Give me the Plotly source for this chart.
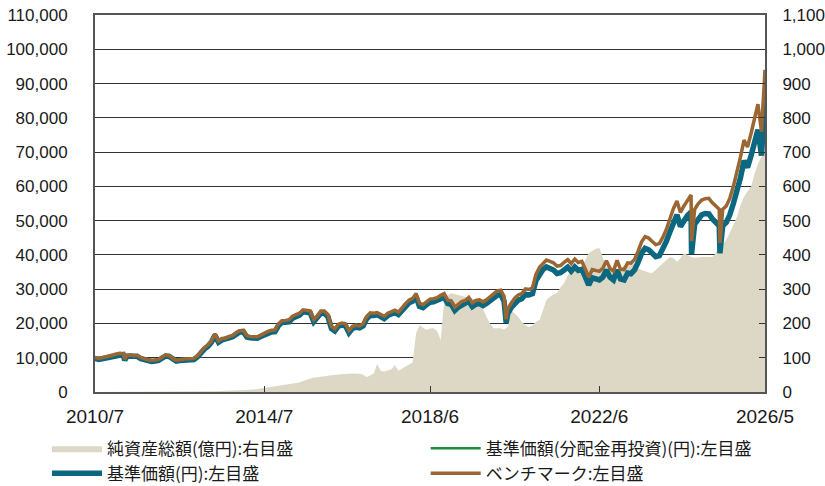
import pandas as pd
import plotly.graph_objects as go

# ---- data ----
months = pd.date_range("2010-07-01", "2026-05-01", freq="MS")

base_price = (
    [9800, 9500, 9700, 9900, 10200, 10500]
    + [10800, 11000, 10900, 10400, 10500, 10300, 10400, 9700, 9300, 9100, 8900, 9000]
    + [9200, 9900, 10500, 10400, 9500, 9000, 9200, 9200, 9400, 9400, 9500, 10200]
    + [11500, 12600, 13300, 14500, 16600, 14500, 15200, 15300, 15800, 16100, 17000, 17500]
    + [17600, 16000, 15800, 15800, 15700, 16200, 16700, 17200, 17500, 17600, 19400, 20300]
    + [20300, 20500, 21500, 22000, 22400, 23400, 23300, 23100, 20500, 21500, 23000, 23000]
    + [22000, 18500, 17800, 19200, 19500, 19300, 17300, 18600, 18900, 18700, 19300, 21400]
    + [22400, 22300, 22500, 22000, 21400, 22300, 22800, 23200, 22600, 23900, 25000, 26000]
    + [26500, 27800, 25000, 24600, 25500, 26200, 26300, 26600, 27200, 27700, 25800, 25600]
    + [23800, 24800, 25400, 25600, 26500, 24900, 25600, 25800, 25200, 25800, 26600, 27600]
    + [28200, 28400, 26500, 22800, 24600, 26000, 26800, 27200, 28500, 28300, 28700, 32500]
    + [34500, 35800, 36500, 36000, 35600, 34600, 34800, 35600, 36400, 35300, 36500, 35500]
    + [35800, 33500, 31200, 33300, 33000, 32700, 33500, 35600, 33500, 32700, 35600, 33000]
    + [32700, 34700, 34500, 35600, 37800, 40500, 41900, 41500, 40500, 39500, 39800, 41500]
    + [44000, 46800, 49500, 51700, 48300, 50000, 51500, 52500, 49000, 50500, 51700, 52100]
    + [52000, 50500, 49500, 48500, 48500, 49500, 51700, 55000, 58500, 62500, 67500, 65500]
    + [69000, 73000, 76500, 69000, 86000]
)

benchmark = (
    [10100, 9800, 10000, 10200, 10500, 10800]
    + [11100, 11300, 11200, 10700, 10800, 10600, 10700, 10000, 9600, 9400, 9200, 9300]
    + [9500, 10200, 10800, 10700, 9800, 9300, 9500, 9500, 9700, 9700, 9800, 10500]
    + [11900, 13000, 13700, 14900, 17000, 14900, 15600, 15700, 16200, 16500, 17400, 17900]
    + [18000, 16400, 16200, 16200, 16100, 16600, 17200, 17700, 18000, 18100, 19900, 20800]
    + [20900, 21100, 22100, 22600, 23000, 24000, 23900, 23700, 21100, 22100, 23600, 23600]
    + [22600, 19100, 18400, 19800, 20100, 19900, 17900, 19200, 19500, 19300, 19900, 22000]
    + [23100, 23000, 23200, 22700, 22100, 23000, 23500, 23900, 23300, 24700, 25800, 26800]
    + [27300, 28700, 25900, 25500, 26400, 27100, 27200, 27500, 28200, 28700, 26800, 26600]
    + [24800, 25800, 26400, 26700, 27600, 26000, 26700, 26900, 26300, 26900, 27800, 28800]
    + [29500, 29700, 27900, 24200, 25900, 27400, 28300, 28700, 30100, 29900, 30400, 34300]
    + [36400, 37700, 38500, 38100, 37700, 36700, 36900, 37800, 38600, 37500, 38800, 37800]
    + [38100, 35800, 33500, 35700, 35400, 35200, 36100, 38300, 36100, 35300, 38400, 35800]
    + [35700, 37700, 37600, 38700, 41000, 43800, 45300, 44900, 43900, 43000, 43300, 45100]
    + [47500, 50800, 53500, 55700, 52400, 54300, 55800, 57500, 53300, 54900, 56000, 56400]
    + [56500, 55200, 54300, 53300, 53300, 54300, 56500, 60000, 64000, 68500, 73500, 71500]
    + [75500, 80000, 84000, 76000, 94000]
)

net_assets = (
    [0.1, 0.1, 0.2, 0.2, 0.2, 0.3]
    + [0.3, 0.3, 0.3, 0.4, 0.4, 0.4, 0.4, 0.4, 0.4, 0.4, 0.4, 0.4]
    + [0.4, 0.5, 0.5, 0.5, 0.5, 0.5, 0.5, 0.5, 0.6, 0.6, 0.7, 0.8]
    + [1.0, 1.2, 1.5, 2.0, 2.4, 2.6, 3.0, 3.3, 3.6, 4.0, 4.6, 5.2]
    + [5.5, 6.0, 6.5, 7.5, 9.0, 11, 13, 14, 15, 16, 18, 20]
    + [21, 23, 25, 27, 28, 32, 36, 40, 42, 43, 45, 46]
    + [47, 49, 50, 51, 52, 53, 53, 54, 53, 53, 50, 44]
    + [48, 55, 82, 62, 60, 62, 66, 79, 62, 68, 74, 82]
    + [86, 172, 195, 188, 181, 185, 186, 178, 152, 268, 282, 288]
    + [285, 282, 280, 278, 276, 272, 270, 268, 240, 219, 200, 186]
    + [186, 186, 182, 190, 239, 230, 219, 205, 195, 190, 195, 205]
    + [210, 240, 268, 278, 285, 288, 305, 318, 340, 356, 360, 362]
    + [365, 385, 405, 412, 418, 420, 395, 365, 355, 350, 347, 360]
    + [370, 376, 385, 370, 360, 356, 352, 349, 347, 355, 366, 376]
    + [385, 394, 390, 379, 390, 405, 400, 394, 392, 394, 394, 394]
    + [395, 394, 405, 423, 430, 445, 464, 490, 511, 545, 570, 585]
    + [599, 638, 665, 686, 700]
)

# sharp one-day drops
spike_dates = ["2011-03-15", "2020-03-19", "2024-08-05", "2025-04-07"]
spike_base = [9300, 20200, 40300, 40500]
spike_bench = [9600, 21200, 44000, 43500]

tick_dates = ["2010-07-01", "2014-07-01", "2018-06-01", "2022-06-01", "2026-05-01"]
tick_labels = ["2010/7", "2014/7", "2018/6", "2022/6", "2026/5"]
left_ticks = list(range(0, 110001, 10000))
right_ticks = list(range(0, 1101, 100))

names = ["純資産総額(億円):右目盛", "基準価額(分配金再投資)(円):左目盛",
         "基準価額(円):左目盛", "ベンチマーク:左目盛"]

# ---- assemble line series (monthly + spike days) ----
lines = pd.DataFrame({"date": months, "base": base_price, "bench": benchmark})
spikes = pd.DataFrame({"date": pd.to_datetime(spike_dates), "base": spike_base, "bench": spike_bench})
lines = pd.concat([lines, spikes]).sort_values("date")
nav_reinvested = lines["base"]  # no distributions: identical to base price

C_AREA = "#ddd8c5"
C_TEAL = "#0b6880"
C_GREEN = "#1d8c3a"
C_BROWN = "#9a6733"

fig = go.Figure()
fig.add_trace(go.Scatter(x=months, y=net_assets, name=names[0], yaxis="y",
                         mode="lines", fill="tozeroy", fillcolor=C_AREA,
                         line=dict(width=0, color=C_AREA), legend="legend"))
fig.add_trace(go.Scatter(x=lines["date"], y=nav_reinvested, name=names[1], yaxis="y2",
                         mode="lines", line=dict(width=2.5, color=C_GREEN), legend="legend2"))
fig.add_trace(go.Scatter(x=lines["date"], y=lines["base"], name=names[2], yaxis="y2",
                         mode="lines", line=dict(width=5.5, color=C_TEAL), legend="legend"))
fig.add_trace(go.Scatter(x=lines["date"], y=lines["bench"], name=names[3], yaxis="y2",
                         mode="lines", line=dict(width=3.5, color=C_BROWN), legend="legend2"))

num_font = dict(family="Liberation Sans, Arial, sans-serif", size=17, color="#1a1a1a")
leg_font = dict(family="Noto Sans CJK JP, sans-serif", size=17, color="#1a1a1a")

fig.update_layout(
    width=825, height=486,
    margin=dict(l=95, r=60, t=15, b=94, autoexpand=False),
    paper_bgcolor="white", plot_bgcolor="white",
    showlegend=True,
    xaxis=dict(type="date", range=["2010-07-01", "2026-05-01"], automargin=False,
               tickvals=tick_dates, ticktext=tick_labels,
               ticks="inside", ticklen=6, tickcolor="#333", tickwidth=1,
               showline=True, linecolor="#555", linewidth=2, mirror=True,
               showgrid=False, zeroline=False, ticklabelstandoff=6,
               tickfont=dict(family="Liberation Sans, Arial, sans-serif", size=19, color="#1a1a1a")),
    yaxis=dict(side="right", range=[0, 1100], tickvals=right_ticks, tickformat=",d",
               automargin=False,
               showgrid=False, zeroline=False, showline=True, linecolor="#555", linewidth=2,
               ticks="inside", ticklen=6, tickcolor="#333", ticklabelstandoff=12,
               tickfont=num_font),
    yaxis2=dict(side="left", overlaying="y", range=[0, 110000], tickvals=left_ticks,
                automargin=False,
                tickformat=",d", showgrid=True, gridcolor="#333", gridwidth=1,
                zeroline=False, showline=True, linecolor="#555", linewidth=2,
                ticks="", ticklabelstandoff=22, tickfont=num_font),
    legend=dict(xref="container", yref="container", x=0.057, xanchor="left",
                y=0.114, yanchor="top", orientation="v",
                font=leg_font, bgcolor="rgba(0,0,0,0)", itemwidth=50, tracegroupgap=0),
    legend2=dict(xref="container", yref="container", x=0.516, xanchor="left",
                 y=0.114, yanchor="top", orientation="v",
                 font=leg_font, bgcolor="rgba(0,0,0,0)", itemwidth=50, tracegroupgap=0),
)

fig.write_html("out.html", config={"displayModeBar": False},
               post_script="document.body.style.margin='0';document.body.style.overflow='hidden';")
